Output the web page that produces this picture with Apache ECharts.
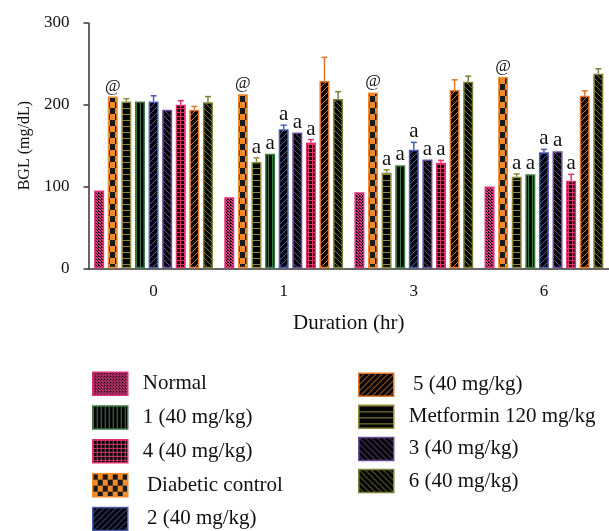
<!DOCTYPE html>
<html>
<head>
<meta charset="utf-8">
<script src="https://cdn.jsdelivr.net/npm/echarts@6/dist/echarts.min.js"></script>
<style>
html,body{margin:0;padding:0;background:#fff;}
#c{width:609px;height:531px;}
</style>
</head>
<body>
<div id="c"></div>
<script>
// ---- data ----
const categories = ['0', '1', '3', '6'];
const seriesNames = ['Normal', 'Diabetic control', 'Metformin 120 mg/kg', '1 (40 mg/kg)', '2 (40 mg/kg)', '3 (40 mg/kg)', '4 (40 mg/kg)', '5 (40 mg/kg)', '6 (40 mg/kg)'];
const normalVals    = [95, 87, 93, 100];
const diabeticVals  = [210, 213, 215, 234];
const metforminVals = [204, 130, 117, 112];
const c1Vals        = [204, 140, 126, 115];
const c2Vals        = [204, 170, 145, 142];
const c3Vals        = [194, 166, 133, 143];
const c4Vals        = [200, 154, 129, 107];
const c5Vals        = [194, 229, 218, 211];
const c6Vals        = [203, 207, 228, 238];
const normalErr     = [0, 0, 0, 0];
const diabeticErr   = [0, 0, 0, 0];
const metforminErr  = [3.5, 5, 3.5, 3.5];
const c1Err         = [0, 0, 0, 0];
const c2Err         = [7, 5, 9, 3.5];
const c3Err         = [0, 0, 0, 0];
const c4Err         = [5, 3.5, 3, 8];
const c5Err         = [4, 29, 12.5, 6];
const c6Err         = [7, 9, 7, 6];
const normalMarks    = ['', '', '', ''];
const diabeticMarks  = ['@', '@', '@', '@'];
const metforminMarks = ['', 'a', 'a', 'a'];
const c1Marks        = ['', 'a', 'a', 'a'];
const c2Marks        = ['', 'a', 'a', 'a'];
const c3Marks        = ['', 'a', 'a', 'a'];
const c4Marks        = ['', 'a', 'a', 'a'];
const c5Marks        = ['', '', '', ''];
const c6Marks        = ['', '', '', ''];
const yTicks = [0, 100, 200, 300];

const allVals  = [normalVals, diabeticVals, metforminVals, c1Vals, c2Vals, c3Vals, c4Vals, c5Vals, c6Vals];
const allErr   = [normalErr, diabeticErr, metforminErr, c1Err, c2Err, c3Err, c4Err, c5Err, c6Err];
const allMarks = [normalMarks, diabeticMarks, metforminMarks, c1Marks, c2Marks, c3Marks, c4Marks, c5Marks, c6Marks];

// ---- patterns ----
function pat(w, h, bg, draw) {
  const c = document.createElement('canvas');
  c.width = w; c.height = h;
  const g = c.getContext('2d');
  g.fillStyle = bg; g.fillRect(0, 0, w, h);
  draw(g);
  return { image: c, repeat: 'repeat' };
}
function diagFwd(col) { return pat(6, 6, '#050505', g => { g.strokeStyle = col; g.lineWidth = 1; g.beginPath(); g.moveTo(-1, 7); g.lineTo(7, -1); g.stroke(); }); }
function diagBack(col) { return pat(6, 6, '#050505', g => { g.strokeStyle = col; g.lineWidth = 1; g.beginPath(); g.moveTo(-1, -1); g.lineTo(7, 7); g.stroke(); }); }

const borderCols = ['#e2307a', '#f08a2a', '#8e8c3e', '#3c7a44', '#4a5cb0', '#6b4c9a', '#e2306e', '#e0782e', '#7e8038'];
const fills = [
  pat(3, 3, '#1a0a12', g => { g.fillStyle = '#e23a82'; g.fillRect(0, 0, 2, 1); g.fillRect(1, 1, 1, 1); g.fillRect(0, 2, 1, 1); g.fillRect(2, 2, 1, 1); }),
  pat(10, 12, '#f08a2a', g => { g.fillStyle = '#1a1a1a'; g.fillRect(0, 0, 5, 6); g.fillRect(5, 6, 5, 6); }),
  pat(4, 6, '#050505', g => { g.fillStyle = '#8e8c3e'; g.fillRect(0, 0, 4, 1); }),
  pat(4, 4, '#050505', g => { g.fillStyle = '#3c7a44'; g.fillRect(0, 0, 1, 4); }),
  diagFwd('#4a5cb0'),
  diagBack('#6b4c9a'),
  pat(4, 4, '#050505', g => { g.fillStyle = '#e2306e'; g.fillRect(0, 0, 4, 1); g.fillRect(0, 0, 1, 4); }),
  diagFwd('#e0782e'),
  diagBack('#7e8038')
];

const BAR_W = 10, BAR_GAP_PX = 3.6;
const nS = seriesNames.length;
const totalW = nS * BAR_W + (nS - 1) * BAR_GAP_PX;

const series = seriesNames.map((name, i) => ({
  name: name,
  type: 'bar',
  data: allVals[i],
  barWidth: BAR_W,
  barGap: (BAR_GAP_PX / BAR_W * 100) + '%',
  itemStyle: { color: fills[i], borderColor: borderCols[i], borderWidth: 1.5 },
  emphasis: { disabled: true },
  z: 2
}));

// error bars + annotations
const errData = [];
for (let s = 0; s < nS; s++) {
  for (let c = 0; c < categories.length; c++) {
    errData.push([c, s, allVals[s][c], allErr[s][c]]);
  }
}
series.push({
  type: 'custom',
  name: 'err',
  data: errData,
  encode: { x: 0, y: 2 },
  z: 5,
  silent: true,
  renderItem: function (params, api) {
    const c = api.value(0), s = api.value(1), v = api.value(2), e = api.value(3);
    const base = api.coord([c, v]);
    const x = base[0] - totalW / 2 + s * (BAR_W + BAR_GAP_PX) + BAR_W / 2;
    const yTop = api.coord([c, v + e])[1];
    const children = [];
    const col = borderCols[s];
    if (e > 0) {
      children.push({ type: 'line', shape: { x1: x, y1: base[1], x2: x, y2: yTop }, style: { stroke: col, lineWidth: 1.5 } });
      children.push({ type: 'line', shape: { x1: x - 3, y1: yTop, x2: x + 3, y2: yTop }, style: { stroke: col, lineWidth: 1.5 } });
    }
    const mark = allMarks[s][c];
    if (mark) {
      const isAt = mark === '@';
      children.push({ type: 'text', style: { text: mark, x: x, y: yTop - (isAt ? 2 : 0), align: 'center', verticalAlign: 'bottom', font: (isAt ? '17px' : '21px') + ' "Liberation Serif", serif', fill: '#111' } });
    }
    return { type: 'group', children: children };
  }
});

const legendText = { fontFamily: '"Liberation Serif", serif', fontSize: 21, color: '#111', padding: [0, 0, 0, 10] };

const option = {
  animation: false,
  backgroundColor: '#fff',
  grid: { left: 88.5, right: -1, top: 23, bottom: 262.7, containLabel: false },
  legend: [
    {
      data: ['Normal', '1 (40 mg/kg)', '4 (40 mg/kg)', 'Diabetic control', '2 (40 mg/kg)'],
      orient: 'vertical', left: 92, top: 371.5, height: 200, itemWidth: 35, itemHeight: 23, itemGap: 9.3,
      icon: 'rect', selectedMode: false, padding: 0,
      itemStyle: { borderWidth: 1.5 },
      formatter: n => (n === 'Diabetic control' || n === '2 (40 mg/kg)') ? '\u2009' + n : n,
      textStyle: legendText
    },
    {
      data: ['5 (40 mg/kg)', 'Metformin 120 mg/kg', '3 (40 mg/kg)', '6 (40 mg/kg)'],
      orient: 'vertical', left: 358, top: 372.5, height: 200, itemWidth: 35, itemHeight: 23, itemGap: 7.6,
      icon: 'rect', selectedMode: false, padding: 0,
      itemStyle: { borderWidth: 1.5 },
      formatter: n => n === '5 (40 mg/kg)' ? '\u2009' + n : n,
      textStyle: legendText
    }
  ],
  xAxis: {
    type: 'category',
    data: categories,
    name: 'Duration (hr)',
    nameLocation: 'middle',
    nameGap: 45,
    nameTextStyle: { fontFamily: '"Liberation Serif", serif', fontSize: 21, color: '#111' },
    axisLine: { lineStyle: { color: '#333', width: 1.5 } },
    axisTick: { alignWithLabel: true, length: 4, lineStyle: { color: '#333', width: 1.5 } },
    axisLabel: { fontFamily: '"Liberation Serif", serif', fontSize: 17, color: '#111', margin: 15 }
  },
  yAxis: {
    type: 'value',
    min: yTicks[0], max: yTicks[yTicks.length - 1], interval: 100,
    name: 'BGL (mg/dL)',
    nameLocation: 'middle',
    nameRotate: 90,
    nameGap: 55,
    nameTextStyle: { fontFamily: '"Liberation Serif", serif', fontSize: 16, color: '#111' },
    axisLine: { show: true, lineStyle: { color: '#333', width: 1.5 } },
    axisTick: { show: true, length: 5, lineStyle: { color: '#333', width: 1.5 } },
    splitLine: { show: false },
    axisLabel: { fontFamily: '"Liberation Serif", serif', fontSize: 17, color: '#111', margin: 19 }
  },
  series: series
};

const chart = echarts.init(document.getElementById('c'), null, { renderer: 'canvas' });
chart.setOption(option);
</script>
</body>
</html>
